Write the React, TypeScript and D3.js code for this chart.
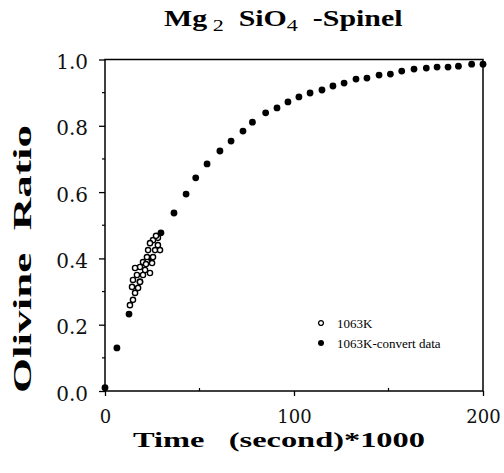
import { useEffect, useRef } from 'react';
import * as d3 from 'd3';

// 1063K-convert data (filled dots)
const convertTime = [0, 6.3, 12.7, 18.5, 24.5, 29.6, 36.5, 42.9, 48, 54, 60.8, 66.7, 73, 78, 85, 91, 96.8, 102.6, 108.5, 114.8, 120.6, 126.5, 132.8, 138.6, 145, 151, 157, 163.5, 170, 175.7, 181.5, 187, 194, 200];
const convertRatio = [0.01, 0.13, 0.232, 0.33, 0.40, 0.477, 0.537, 0.594, 0.643, 0.685, 0.724, 0.754, 0.784, 0.811, 0.839, 0.854, 0.872, 0.887, 0.899, 0.908, 0.92, 0.929, 0.941, 0.944, 0.953, 0.956, 0.965, 0.971, 0.974, 0.977, 0.977, 0.98, 0.986, 0.986];

// 1063K measured (open circles)
const measTime = [25.4, 28.0, 27.0, 23.8, 28.0, 22.8, 26.5, 29.1, 22.2, 25.4, 20.1, 24.9, 18.5, 15.9, 21.2, 21.7, 16.9, 20.1, 23.8, 14.8, 18.5, 14.3, 17.5, 15.9, 14.8, 13.2];
const measRatio = [0.455, 0.462, 0.468, 0.446, 0.44, 0.425, 0.425, 0.425, 0.404, 0.404, 0.389, 0.386, 0.374, 0.371, 0.365, 0.383, 0.35, 0.35, 0.356, 0.335, 0.329, 0.314, 0.311, 0.296, 0.275, 0.259];

const xMajor = [0, 100, 200];
const xMinor = [50, 150];
const yMajor = [0, 0.2, 0.4, 0.6, 0.8, 1.0];
const yMinor = [0.1, 0.3, 0.5, 0.7, 0.9];

export default function App() {
  const ref = useRef<SVGSVGElement>(null);

  useEffect(() => {
    const width = 504;
    const height = 473;
    const margin = { top: 59.5, right: 21, bottom: 82, left: 105 };
    const innerWidth = width - margin.left - margin.right;
    const innerHeight = height - margin.top - margin.bottom;

    const svg = d3.select(ref.current).attr('width', width).attr('height', height);
    svg.selectAll('*').remove();

    const g = svg.append('g').attr('transform', `translate(${margin.left}, ${margin.top})`);

    const xScale = d3.scaleLinear().domain([0, 200]).range([0, innerWidth]);
    const yScale = d3.scaleLinear().domain([0, 1]).range([innerHeight, 0]);

    // frame
    g.append('rect')
      .attr('width', innerWidth)
      .attr('height', innerHeight)
      .attr('fill', 'none')
      .attr('stroke', '#000')
      .attr('stroke-width', 1.5);

    const tickFont = "'DejaVu Serif', serif";

    const xAxis = d3.axisBottom(xScale).tickValues(xMajor).tickSize(5).tickPadding(14).tickFormat(d3.format('d'));
    const xg = g.append('g').attr('transform', `translate(0, ${innerHeight})`).call(xAxis);
    xg.select('.domain').remove();
    xg.selectAll('text').attr('font-size', 18).attr('font-family', tickFont).attr('fill', '#111');
    xg.selectAll('line').attr('stroke-width', 1.3);

    const yAxis = d3.axisLeft(yScale).tickValues(yMajor).tickSize(6).tickPadding(11).tickFormat(d3.format('.1f'));
    const yg = g.append('g').call(yAxis);
    yg.select('.domain').remove();
    yg.selectAll('text').attr('font-size', 20).attr('font-family', tickFont).attr('fill', '#111').attr('dy', '0.45em');
    yg.selectAll('line').attr('stroke-width', 1.3);

    g.selectAll('.xminor')
      .data(xMinor)
      .join('line')
      .attr('class', 'xminor')
      .attr('x1', d => xScale(d))
      .attr('x2', d => xScale(d))
      .attr('y1', innerHeight)
      .attr('y2', innerHeight - 3)
      .attr('stroke', '#000')
      .attr('stroke-width', 1.2);

    g.selectAll('.yminor')
      .data(yMinor)
      .join('line')
      .attr('class', 'yminor')
      .attr('x1', -3)
      .attr('x2', 0)
      .attr('y1', d => yScale(d))
      .attr('y2', d => yScale(d))
      .attr('stroke', '#000')
      .attr('stroke-width', 1.2);

    // filled convert points
    g.selectAll('.conv')
      .data(convertTime.map((t, i) => [t, convertRatio[i]]))
      .join('circle')
      .attr('class', 'conv')
      .attr('r', 3.4)
      .attr('fill', '#000')
      .attr('cx', d => xScale(d[0]))
      .attr('cy', d => yScale(d[1]));

    // open measured points
    g.selectAll('.meas')
      .data(measTime.map((t, i) => [t, measRatio[i]]))
      .join('circle')
      .attr('class', 'meas')
      .attr('r', 2.6)
      .attr('fill', '#fff')
      .attr('stroke', '#000')
      .attr('stroke-width', 1.4)
      .attr('cx', d => xScale(d[0]))
      .attr('cy', d => yScale(d[1]));

    // legend
    const lg = svg.append('g').attr('transform', 'translate(321, 323)');
    lg.append('circle').attr('r', 2.4).attr('fill', '#fff').attr('stroke', '#000').attr('stroke-width', 1.3);
    lg.append('circle').attr('cy', 20).attr('r', 3).attr('fill', '#000');
    lg.append('text').attr('x', 16).attr('y', 4.5).attr('font-size', 13).attr('font-family', "'Liberation Serif', serif").text('1063K');
    lg.append('text').attr('x', 16).attr('y', 24.5).attr('font-size', 13).attr('font-family', "'Liberation Serif', serif").text('1063K-convert data');

    const boldFont = "'Liberation Serif', serif";

    // title, stretched sideways like the scanned original
    const title = svg.append('g').attr('transform', 'translate(164, 26) scale(1.3, 1)')
      .append('text')
      .attr('font-family', boldFont)
      .attr('font-weight', 'bold')
      .attr('font-size', 23)
      .style('white-space', 'pre');
    title.append('tspan').text('Mg');
    title.append('tspan').attr('dy', 5).attr('font-size', 17).attr('font-weight', 'normal').text(' 2');
    title.append('tspan').attr('dy', -5).text('  SiO');
    title.append('tspan').attr('dy', 5).attr('font-size', 17).attr('font-weight', 'normal').text('4');
    title.append('tspan').attr('dy', -5).text('  -Spinel');

    // axis titles
    svg.append('text')
      .attr('x', 133)
      .attr('y', 447)
      .attr('font-family', boldFont)
      .attr('font-weight', 'bold')
      .attr('font-size', 22)
      .attr('textLength', 292)
      .attr('lengthAdjust', 'spacingAndGlyphs')
      .style('white-space', 'pre')
      .text('Time   (second)*1000');

    svg.append('text')
      .attr('transform', 'translate(31, 393) rotate(-90)')
      .attr('font-family', boldFont)
      .attr('font-weight', 'bold')
      .attr('font-size', 25)
      .attr('textLength', 268)
      .attr('lengthAdjust', 'spacingAndGlyphs')
      .style('white-space', 'pre')
      .text('Olivine  Ratio');
  }, []);

  return <svg ref={ref} style={{ position: 'absolute', left: 0, top: 0 }}></svg>;
}
